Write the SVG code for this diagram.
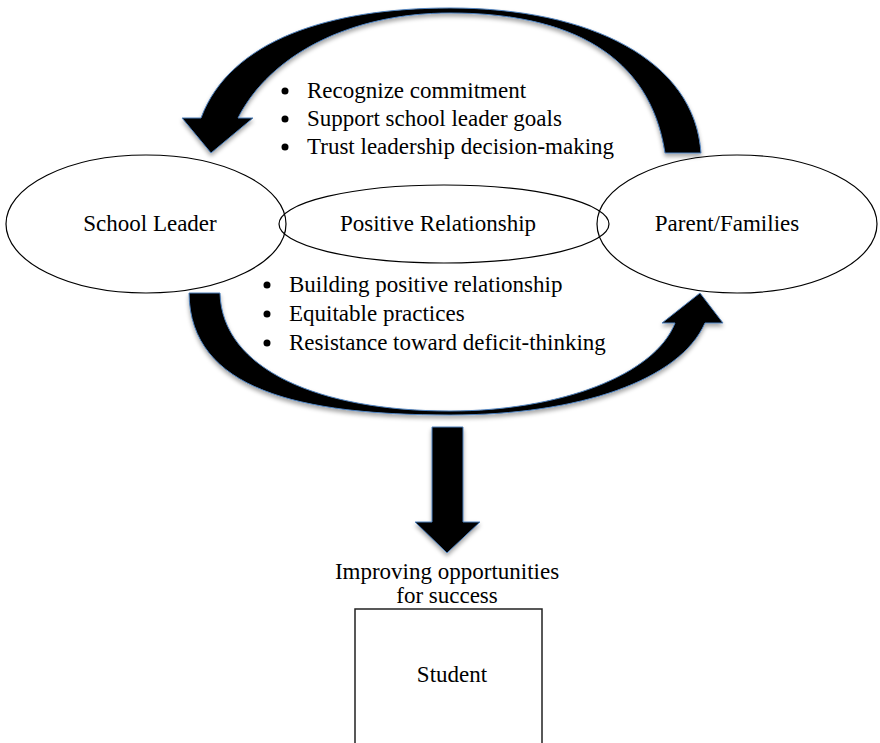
<svg xmlns="http://www.w3.org/2000/svg" width="880" height="743" viewBox="0 0 880 743">
<style>
  text { font-family: "Liberation Serif", "Times New Roman", serif; font-size: 23px; fill: #000; }
  .node { fill: none; stroke: #000; stroke-width: 1.2; }
  .arrow { fill: #000; stroke: #4f81bd; stroke-width: 1; stroke-linejoin: miter; filter: url(#shadow); }
  .mid { text-anchor: middle; }
</style>
<defs>
  <filter id="shadow" x="-10%" y="-10%" width="120%" height="130%">
    <feDropShadow dx="0" dy="3" stdDeviation="2" flood-color="#000" flood-opacity="0.35"/>
  </filter>
</defs>
<rect width="880" height="743" fill="#fff"/>

<g id="connectors">
  <path id="arrow-top" class="arrow" d="M 701,153 C 695,60 590,8 450,8 C 330,8 230,40 201,118 L 182,118 L 211,153 L 253,118 L 238,118 C 270,55 350,13 450,13 C 570,13 650,55 665,153 Z"/>
  <path id="arrow-bottom" class="arrow" d="M 189,293 C 190,390 300,415 450,415 C 580,415 680,380 705,323 L 723,323 L 700,293 L 662,323 L 675,323 C 655,375 560,411 450,411 C 320,411 222,370 220,293 Z"/>
  <path id="arrow-down" class="arrow" d="M 432,427 L 463,427 L 463,522 L 480,522 L 447,553 L 415,522 L 432,522 Z"/>
</g>

<g id="list-top">
  <circle cx="285" cy="91" r="3.5"/>
  <circle cx="285" cy="119" r="3.5"/>
  <circle cx="285" cy="147" r="3.5"/>
  <text x="307" y="98">Recognize commitment</text>
  <text x="307" y="126">Support school leader goals</text>
  <text x="307" y="154">Trust leadership decision-making</text>
</g>

<g id="school-leader">
  <ellipse class="node" cx="146" cy="224" rx="140" ry="69"/>
  <text class="mid" x="150" y="231">School Leader</text>
</g>

<g id="positive-relationship">
  <ellipse class="node" cx="444" cy="224" rx="165" ry="39"/>
  <text class="mid" x="438" y="231">Positive Relationship</text>
</g>

<g id="parent-families">
  <ellipse class="node" cx="737" cy="224" rx="140" ry="69"/>
  <text class="mid" x="727" y="231">Parent/Families</text>
</g>

<g id="list-bottom">
  <circle cx="267" cy="285" r="3.5"/>
  <circle cx="267" cy="314" r="3.5"/>
  <circle cx="267" cy="343" r="3.5"/>
  <text x="289" y="292">Building positive relationship</text>
  <text x="289" y="321">Equitable practices</text>
  <text x="289" y="350">Resistance toward deficit-thinking</text>
</g>

<g id="outcome-label">
  <text class="mid" x="447" y="579">Improving opportunities</text>
  <text class="mid" x="447" y="603">for success</text>
</g>

<g id="student">
  <rect x="355" y="609" width="187" height="150" fill="#fff" stroke="#222" stroke-width="1.5"/>
  <text class="mid" x="452" y="682">Student</text>
</g>
</svg>
